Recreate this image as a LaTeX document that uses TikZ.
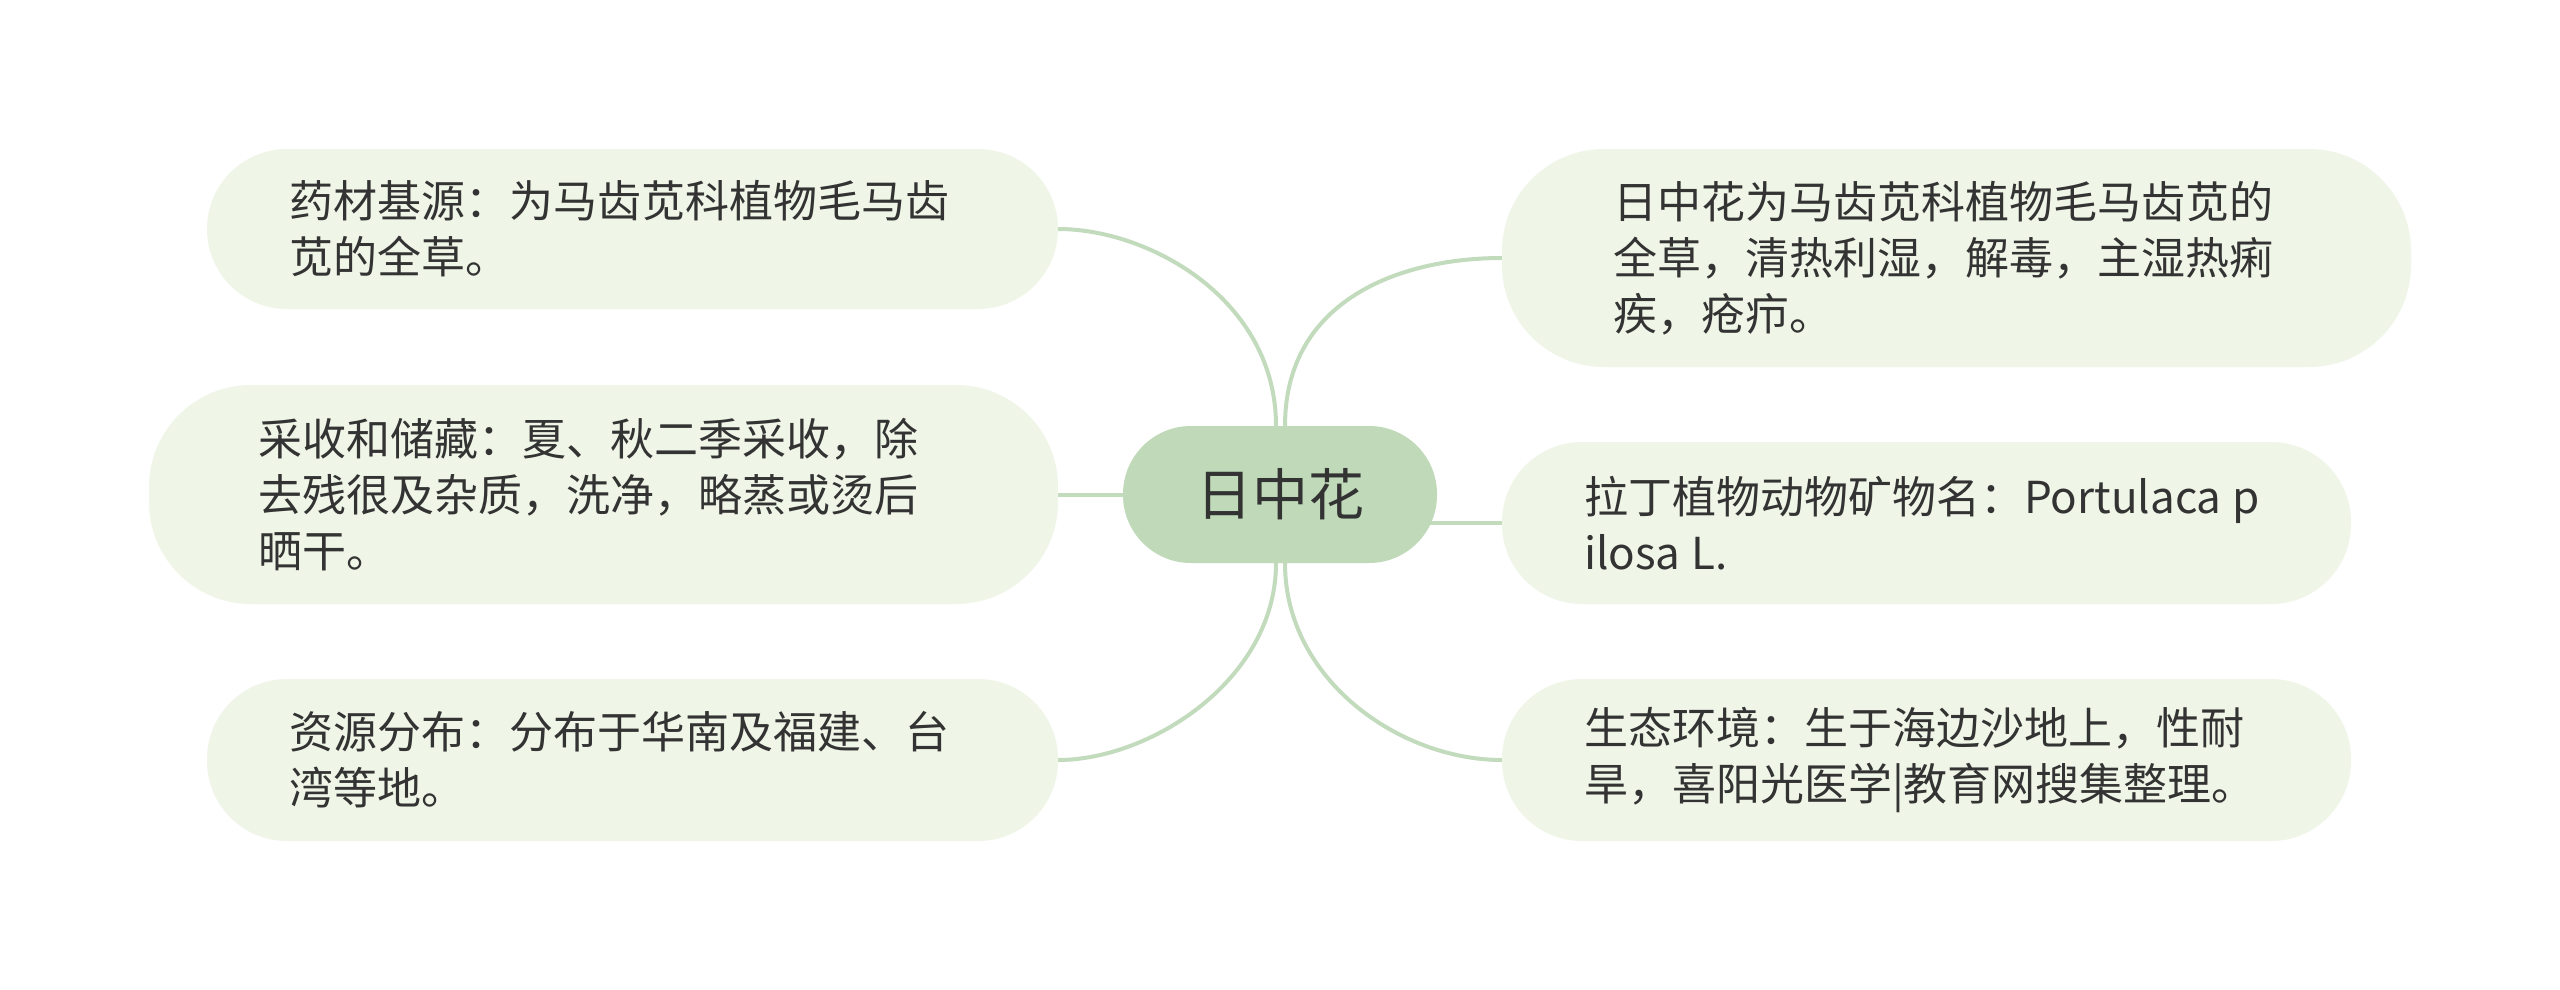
\documentclass[tikz,border=0pt]{standalone}
\usepackage{fontspec}
\setmainfont{Noto Sans CJK SC}
\usetikzlibrary{backgrounds}
\definecolor{leaffill}{HTML}{EFF6E7}
\definecolor{rootfill}{HTML}{BFD9B9}
\definecolor{linkc}{HTML}{C2DBBD}
\definecolor{txt}{HTML}{333333}
\newcommand{\wsp}{\hspace{0.25em}}
\begin{document}
\begin{tikzpicture}[x=1pt,y=-1pt,
  leaf/.style={fill=leaffill, rounded corners=80pt, inner sep=0pt, align=left, text=txt,
    font=\fontsize{44}{56}\selectfont, anchor=center},
  tallleaf/.style={leaf, rounded corners=102pt},
  root/.style={fill=rootfill, rounded corners=68pt, inner sep=0pt, text=txt,
    font=\fontsize{56}{60}\selectfont, minimum width=314pt, minimum height=137pt},
  link/.style={draw=linkc, line width=4pt}]
\useasboundingbox (0,0) rectangle (2560,989);
\node[root] (c) at (1280,494.5) {日中花};
\node[leaf, minimum width=851pt, minimum height=160pt, text width=687pt] (l1) at (632.5,229)
  {药材基源：为马齿苋科植物毛马齿\\苋的全草。};
\node[tallleaf, minimum width=909pt, minimum height=219pt, text width=691pt] (l2) at (603.5,494.5)
  {采收和储藏：夏、秋二季采收，除\\去残很及杂质，洗净，略蒸或烫后\\晒干。};
\node[leaf, minimum width=851pt, minimum height=162pt, text width=687pt] (l3) at (632.5,760)
  {资源分布：分布于华南及福建、台\\湾等地。};
\node[tallleaf, minimum width=909pt, minimum height=218pt, text width=687pt] (r1) at (1956.5,258)
  {日中花为马齿苋科植物毛马齿苋的\\全草，清热利湿，解毒，主湿热痢\\疾，疮疖。};
\node[leaf, minimum width=849pt, minimum height=162pt, text width=685pt] (r2) at (1926.5,523)
  {拉丁植物动物矿物名：Portulaca\wsp p\\ilosa\wsp L.};
\node[leaf, minimum width=849pt, minimum height=162pt, text width=685pt] (r3) at (1926.5,760)
  {生态环境：生于海边沙地上，性耐\\旱，喜阳光医学|教育网搜集整理。};
\coordinate (cr) at (c.center |- r2.west);
\coordinate (ntl) at ([xshift=-4pt]c.north);
\coordinate (ntr) at ([xshift=5pt]c.north);
\coordinate (nbl) at ([xshift=-4pt]c.south);
\coordinate (nbr) at ([xshift=5pt]c.south);
\begin{scope}[on background layer]
\fill[white] (0,0) rectangle (2560,989);
\draw[link] (ntl) .. controls (1276,300) and (1150,229) .. (l1.east);
\draw[link] (ntr) .. controls (1285,300) and (1400,258) .. (r1.west);
\draw[link] (nbl) .. controls (1276,680) and (1150,760) .. (l3.east);
\draw[link] (nbr) .. controls (1285,680) and (1400,760) .. (r3.west);
\draw[link] (l2.east) -- (c.west);
\draw[link] (cr) -- (r2.west);
\end{scope}
\end{tikzpicture}
\end{document}
